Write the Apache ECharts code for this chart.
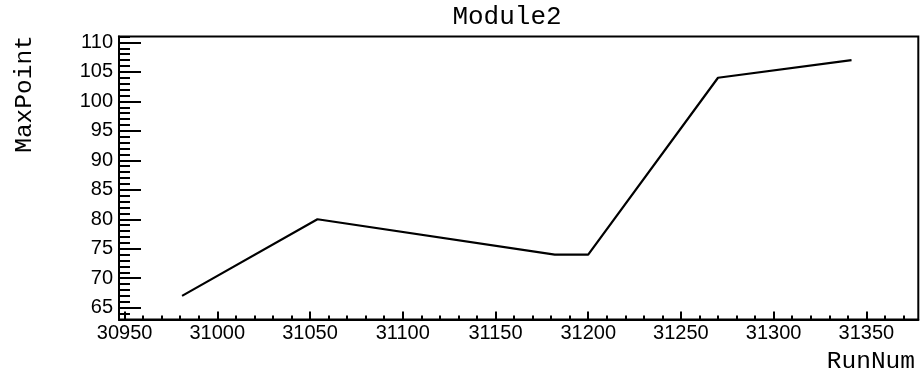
<!DOCTYPE html>
<html>
<head>
<meta charset="utf-8">
<script src="https://cdn.jsdelivr.net/npm/echarts@6/dist/echarts.min.js"></script>
<style>
html,body{margin:0;padding:0;background:#fff;}
#chart{width:922px;height:381px;}
</style>
</head>
<body>
<div id="chart"></div>
<script>
// Data
var runNum = [30981, 31054, 31182, 31200, 31270, 31342];
var maxPoint = [67, 80, 74, 74, 104, 107];
// Tick labels
var xTicks = [30950, 31000, 31050, 31100, 31150, 31200, 31250, 31300, 31350];
var yTicks = [65, 70, 75, 80, 85, 90, 95, 100, 105, 110];
var xRange = [30947, 31378];
var yRange = [63, 111];
var titleText = 'Module2';
var xTitle = 'RunNum';
var yTitle = 'MaxPoint';

// minor ticks: 5 subdivisions between major ticks
var xMinor = [];
for (var v = 30950; v <= xRange[1]; v += 10) xMinor.push(v);
var yMinor = [];
for (var w = yRange[0]; w <= yRange[1]; w += 1) yMinor.push(w);

var chart = echarts.init(document.getElementById('chart'), null, {renderer: 'canvas'});
var mono = '"Liberation Mono", "DejaVu Sans Mono", monospace';
var sans = '"Liberation Sans", Arial, sans-serif';

var option = {
  animation: false,
  backgroundColor: '#fff',
  grid: {
    left: 119, right: 3.7, top: 36.5, bottom: 61.5,
    show: true, borderColor: '#000', borderWidth: 2, backgroundColor: 'transparent'
  },
  xAxis: [{
    type: 'value', min: xRange[0], max: xRange[1], position: 'bottom',
    axisLine: {show: true, onZero: false, lineStyle: {color: '#000', width: 2}},
    axisTick: {show: true, inside: true, length: 8, customValues: xTicks, lineStyle: {color: '#000', width: 2}},
    axisLabel: {show: true, customValues: xTicks, margin: 4, color: '#000', fontFamily: sans, fontSize: 20,
      formatter: function (v) { return String(v); }},
    splitLine: {show: false}
  }, {
    type: 'value', min: xRange[0], max: xRange[1], position: 'bottom',
    axisLine: {show: false, onZero: false},
    axisTick: {show: true, inside: true, length: 4, customValues: xMinor, lineStyle: {color: '#000', width: 2}},
    axisLabel: {show: false},
    splitLine: {show: false}
  }],
  yAxis: [{
    type: 'value', min: yRange[0], max: yRange[1], position: 'left',
    axisLine: {show: true, onZero: false, lineStyle: {color: '#000', width: 2}},
    axisTick: {show: true, inside: true, length: 22, customValues: yTicks, lineStyle: {color: '#000', width: 2}},
    axisLabel: {show: true, customValues: yTicks, margin: 6, color: '#000', fontFamily: sans, fontSize: 20},
    splitLine: {show: false}
  }, {
    type: 'value', min: yRange[0], max: yRange[1], position: 'left',
    axisLine: {show: false, onZero: false},
    axisTick: {show: true, inside: true, length: 11, customValues: yMinor, lineStyle: {color: '#000', width: 2}},
    axisLabel: {show: false},
    splitLine: {show: false}
  }],
  graphic: [
    {type: 'text', left: 'auto', x: 507, y: 17.5,
      style: {text: titleText, fill: '#000', font: '26px ' + mono, align: 'center', verticalAlign: 'middle'}},
    {type: 'text', x: 915, y: 361.5,
      style: {text: xTitle, fill: '#000', font: '24.5px ' + mono, align: 'right', verticalAlign: 'middle'}},
    {type: 'text', x: 25, y: 94, rotation: Math.PI / 2,
      style: {text: yTitle, fill: '#000', font: '24.5px ' + mono, align: 'center', verticalAlign: 'middle'}}
  ],
  series: [{
    type: 'line', xAxisIndex: 0, yAxisIndex: 0,
    data: runNum.map(function (x, i) { return [x, maxPoint[i]]; }),
    showSymbol: false, symbol: 'none',
    lineStyle: {color: '#000', width: 2.2},
    silent: true
  }]
};
chart.setOption(option);
</script>
</body>
</html>
